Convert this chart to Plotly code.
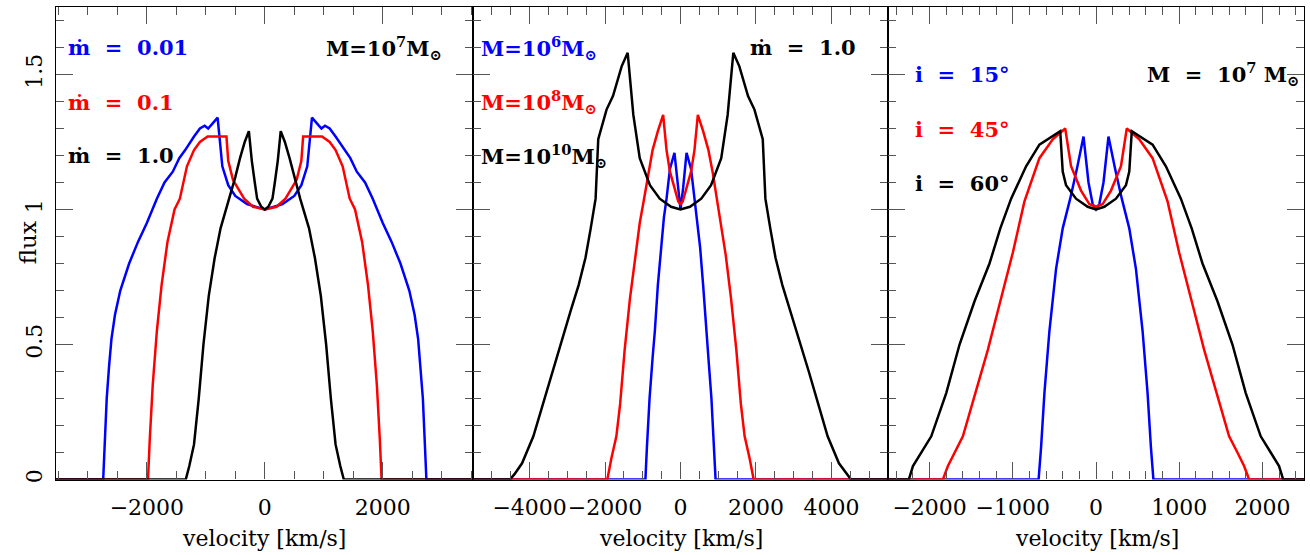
import plotly.graph_objects as go

W, H = 1310, 555

# ---------------- data (velocity km/s, normalised flux) ----------------
# Panel 1: M = 1e7 Msun, different mdot
p1_blue_v = [-3540, -2740, -2710, -2680, -2640, -2600, -2540, -2450, -2300, -2150, -2000, -1830, -1700,
             -1560, -1450, -1350, -1200, -1100, -1020, -960, -880, -800, -760, -720, -620, -500, -300, 0,
             300, 500, 620, 720, 760, 800, 880, 960, 1020, 1100, 1200, 1350, 1450, 1560, 1700, 1830, 2000,
             2150, 2300, 2450, 2540, 2600, 2640, 2680, 2710, 2740, 3540]
p1_blue_f = [0, 0, 0.15, 0.30, 0.42, 0.52, 0.61, 0.70, 0.80, 0.88, 0.95, 1.04, 1.10,
             1.14, 1.19, 1.22, 1.27, 1.30, 1.31, 1.30, 1.32, 1.34, 1.25, 1.16, 1.09, 1.05, 1.02, 1.00,
             1.02, 1.05, 1.09, 1.16, 1.25, 1.34, 1.32, 1.30, 1.31, 1.30, 1.27, 1.22, 1.19, 1.14, 1.10, 1.04, 0.95,
             0.88, 0.80, 0.70, 0.61, 0.52, 0.42, 0.30, 0.15, 0, 0]

p1_red_v = [-3540, -1980, -1950, -1900, -1830, -1750, -1650, -1530, -1440, -1320, -1200, -1100, -970, -650,
            -620, -540, -350, -200, 0, 200, 350, 540, 620, 650, 970, 1100, 1200, 1320, 1440, 1530, 1650,
            1750, 1830, 1900, 1950, 1980, 3540]
p1_red_f = [0, 0, 0.15, 0.35, 0.55, 0.72, 0.88, 1.00, 1.04, 1.16, 1.22, 1.25, 1.27, 1.27,
            1.18, 1.11, 1.04, 1.01, 1.00, 1.01, 1.04, 1.11, 1.18, 1.27, 1.27, 1.25, 1.22, 1.16, 1.04, 1.00, 0.88,
            0.72, 0.55, 0.35, 0.15, 0, 0]

p1_black_v = [-3540, -1340, -1280, -1200, -1120, -1040, -950, -850, -750, -600, -500, -420, -340, -270,
              -220, -170, -130, -60, 0, 60, 130, 170, 220, 270, 340, 420, 500, 600, 750, 850, 950, 1040,
              1120, 1200, 1280, 1340, 3540]
p1_black_f = [0, 0, 0.05, 0.13, 0.30, 0.50, 0.68, 0.82, 0.93, 1.04, 1.12, 1.19, 1.25, 1.29,
              1.18, 1.10, 1.04, 1.01, 1.00, 1.01, 1.04, 1.10, 1.18, 1.29, 1.25, 1.19, 1.12, 1.04, 0.93, 0.82,
              0.68, 0.50, 0.30, 0.13, 0.05, 0, 0]

# Panel 2: mdot = 1.0, different M
p2_blue_v = [-5500, -930, -890, -820, -740, -680, -600, -520, -440, -370, -280, -160, -70, 0,
             70, 160, 280, 370, 440, 520, 600, 680, 740, 820, 890, 930, 5500]
p2_blue_f = [0, 0, 0.12, 0.30, 0.45, 0.55, 0.72, 0.86, 0.97, 1.04, 1.15, 1.21, 1.08, 1.00,
             1.08, 1.21, 1.15, 1.04, 0.97, 0.86, 0.72, 0.55, 0.45, 0.30, 0.12, 0, 0]

p2_red_v = [-5500, -1940, -1830, -1700, -1600, -1480, -1340, -1200, -1080, -965, -850, -740, -600, -460,
            -370, -280, -180, -60, 0, 60, 180, 280, 370, 460, 600, 740, 850, 965, 1080, 1200, 1340,
            1480, 1600, 1700, 1830, 1940, 5500]
p2_red_f = [0, 0, 0.08, 0.16, 0.28, 0.48, 0.67, 0.83, 0.95, 1.04, 1.14, 1.22, 1.29, 1.35,
            1.22, 1.14, 1.09, 1.03, 1.02, 1.03, 1.09, 1.14, 1.22, 1.35, 1.29, 1.22, 1.14, 1.04, 0.95, 0.83, 0.67,
            0.48, 0.28, 0.16, 0.08, 0, 0]

p2_black_v = [-5500, -4520, -4400, -4200, -3900, -3650, -3400, -3150, -2900, -2700, -2520, -2380, -2250,
              -2180, -1960, -1790, -1560, -1400, -1250, -1080, -810, -550, -250, 0, 250, 550, 810, 1080,
              1250, 1400, 1560, 1790, 1960, 2180, 2250, 2380, 2520, 2700, 2900, 3150, 3400, 3650, 3900,
              4200, 4400, 4520, 5500]
p2_black_f = [0, 0, 0.02, 0.06, 0.16, 0.28, 0.40, 0.52, 0.63, 0.72, 0.82, 0.93, 1.04,
              1.26, 1.37, 1.42, 1.53, 1.58, 1.35, 1.19, 1.09, 1.04, 1.01, 1.00, 1.01, 1.04, 1.09, 1.19,
              1.35, 1.58, 1.53, 1.42, 1.37, 1.26, 1.04, 0.93, 0.82, 0.72, 0.63, 0.52, 0.40, 0.28, 0.16,
              0.06, 0.02, 0, 0]

# Panel 3: M = 1e7 Msun, different inclination
p3_blue_v = [-2500, -690, -660, -620, -560, -480, -400, -310, -230, -150, -90, -40, 0,
             40, 90, 150, 230, 310, 400, 480, 560, 620, 660, 690, 2500]
p3_blue_f = [0, 0, 0.12, 0.32, 0.55, 0.78, 0.93, 1.04, 1.15, 1.27, 1.10, 1.02, 1.00,
             1.02, 1.10, 1.27, 1.15, 1.04, 0.93, 0.78, 0.55, 0.32, 0.12, 0, 0]

p3_red_v = [-2500, -1840, -1780, -1700, -1600, -1450, -1300, -1150, -1000, -860, -680, -520, -370,
            -300, -180, -80, 0, 80, 180, 300, 370, 520, 680, 860, 1000, 1150, 1300, 1450, 1600,
            1700, 1780, 1840, 2500]
p3_red_f = [0, 0, 0.05, 0.10, 0.16, 0.32, 0.48, 0.66, 0.84, 1.03, 1.19, 1.26, 1.30,
            1.16, 1.07, 1.02, 1.01, 1.02, 1.07, 1.16, 1.30, 1.26, 1.19, 1.03, 0.84, 0.66, 0.48, 0.32, 0.16,
            0.10, 0.05, 0, 0]

p3_black_v = [-2500, -2250, -2200, -2100, -1980, -1800, -1640, -1460, -1280, -1150, -1020, -840, -680,
              -430, -400, -360, -240, -100, 0, 100, 240, 360, 400, 430, 680, 840, 1020, 1150, 1280,
              1460, 1640, 1800, 1980, 2100, 2200, 2250, 2500]
p3_black_f = [0, 0, 0.05, 0.10, 0.16, 0.32, 0.50, 0.66, 0.80, 0.93, 1.04, 1.16, 1.24,
              1.29, 1.14, 1.09, 1.04, 1.01, 1.00, 1.01, 1.04, 1.09, 1.14, 1.29, 1.24, 1.16, 1.04, 0.93, 0.80,
              0.66, 0.50, 0.32, 0.16, 0.10, 0.05, 0, 0]

x_ranges = [[-3540, 3530], [-5500, 5500], [-2500, 2500]]
x_dticks = [2000, 2000, 1000]
x_minor = [500, 500, 200]

BLUE, RED, BLACK = "#0000ff", "#ff0000", "#000000"

panels = [
    [(p1_blue_v, p1_blue_f, BLUE), (p1_red_v, p1_red_f, RED), (p1_black_v, p1_black_f, BLACK)],
    [(p2_blue_v, p2_blue_f, BLUE), (p2_red_v, p2_red_f, RED), (p2_black_v, p2_black_f, BLACK)],
    [(p3_blue_v, p3_blue_f, BLUE), (p3_red_v, p3_red_f, RED), (p3_black_v, p3_black_f, BLACK)],
]

# ---------------- figure ----------------
fig = go.Figure()
for i, series in enumerate(panels):
    suf = "" if i == 0 else str(i + 1)
    for v, f, c in series:
        fig.add_trace(go.Scatter(x=v, y=f, mode="lines", line=dict(color=c, width=2.5),
                                 xaxis="x" + suf, yaxis="y" + suf, showlegend=False, hoverinfo="skip"))

px_edges = [56, 473, 888, 1304]
y_dom = [72 / H, 548 / H]
TICKC = "#555555"
tickfont = dict(family="DejaVu Serif", size=22, color="black")

layout = dict(width=W, height=H, margin=dict(l=0, r=0, t=0, b=0),
              paper_bgcolor="white", plot_bgcolor="white")
for i in range(3):
    suf = "" if i == 0 else str(i + 1)
    common = dict(showline=True, linecolor="black", linewidth=1.2, mirror="allticks",
                  ticks="inside", ticklen=17, tickwidth=1, tickcolor=TICKC,
                  showgrid=False, zeroline=False, tickfont=tickfont)
    layout["xaxis" + suf] = dict(common, domain=[px_edges[i] / W, px_edges[i + 1] / W],
                                 range=x_ranges[i], dtick=x_dticks[i], tick0=0, tickangle=0,
                                 anchor="y" + suf, ticklabelstandoff=8,
                                 minor=dict(ticks="inside", ticklen=8, tickwidth=1, tickcolor=TICKC,
                                            dtick=x_minor[i], tick0=0, showgrid=False))
    layout["yaxis" + suf] = dict(common, domain=y_dom, range=[0, 1.75], dtick=0.5, tick0=0,
                                 anchor="x" + suf, tickangle=-90, showticklabels=(i == 0),
                                 ticklabelstandoff=4,
                                 minor=dict(ticks="inside", ticklen=8, tickwidth=1, tickcolor=TICKC,
                                            dtick=0.1, tick0=0, showgrid=False))
fig.update_layout(**layout)

# ---------------- annotations ----------------
AF = "DejaVu Serif"
def ann(text, px, py, color, xanchor="left", size=21, bold=True, angle=0):
    fig.add_annotation(text=text, x=px / W, y=1 - py / H, xref="paper", yref="paper",
                       xanchor=xanchor, yanchor="middle", showarrow=False, textangle=angle,
                       font=dict(family=AF, size=size, color=color, weight=700 if bold else 400))

S = "\u00a0\u00a0"
MSUN = "<sub>\u2299</sub>"
ann("\u1e41" + S + "=" + S + "0.01", 66, 48, BLUE)
ann("\u1e41" + S + "=" + S + "0.1", 66, 103, RED)
ann("\u1e41" + S + "=" + S + "1.0", 66, 157, BLACK)
ann("M=10<sup>7</sup>M" + MSUN, 324, 48, BLACK)

ann("M=10<sup>6</sup>M" + MSUN, 479, 48, BLUE)
ann("M=10<sup>8</sup>M" + MSUN, 479, 103, RED)
ann("M=10<sup>10</sup>M" + MSUN, 479, 157, BLACK)
ann("\u1e41" + S + "=" + S + "1.0", 748, 48, BLACK)

ann("i" + S + "=" + S + "15\u00b0", 913, 75, BLUE)
ann("i" + S + "=" + S + "45\u00b0", 913, 130, RED)
ann("i" + S + "=" + S + "60\u00b0", 913, 185, BLACK)
ann("M" + S + "=" + S + "10<sup>7</sup>" + "\u00a0M" + MSUN, 1145, 75, BLACK)

# axis titles
for cx in [264, 681, 1097]:
    ann("velocity [km/s]", cx, 542, BLACK, xanchor="center", size=22, bold=False)
ann("flux", 28, 245, BLACK, xanchor="center", size=23, bold=False, angle=-90)

fig.write_html("out.html", config={"displayModeBar": False},
               post_script="document.body.style.margin='0';")
